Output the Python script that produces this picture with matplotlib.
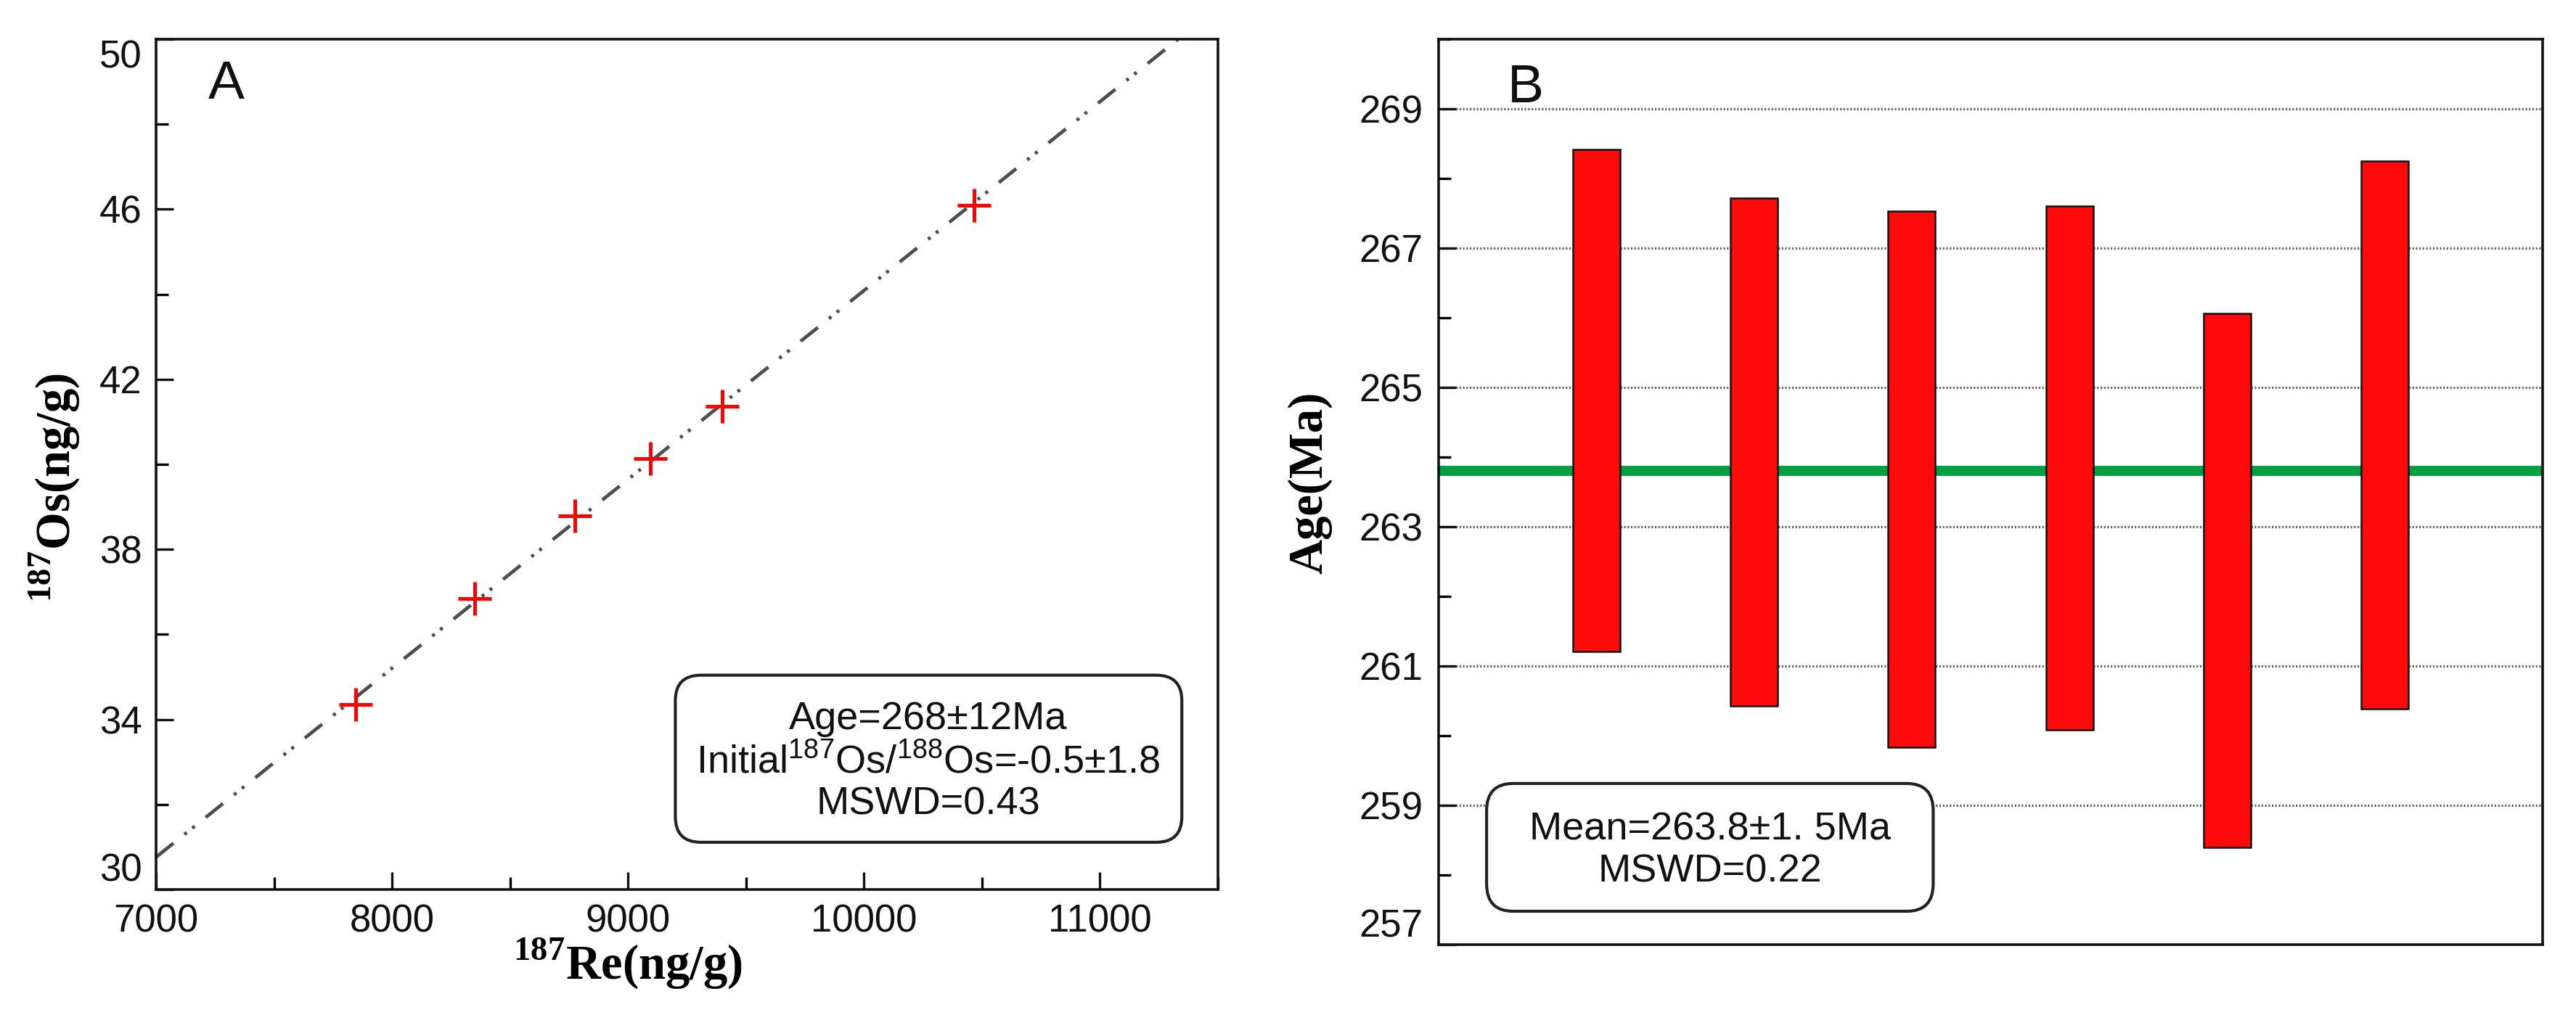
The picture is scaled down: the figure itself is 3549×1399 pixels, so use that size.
import numpy as np
import matplotlib
matplotlib.use("Agg")
import matplotlib.pyplot as plt
from matplotlib.patches import FancyBboxPatch
from matplotlib.ticker import MultipleLocator

#  DATA
re_187 = [7846, 8351, 8776, 9095, 9400, 10466]      # ng/g
os_187 = [34.35, 36.84, 38.79, 40.14, 41.37, 46.09]  # ng/g

sample_no = [1, 2, 3, 4, 5, 6]
age_low   = [261.21, 260.43, 259.83, 260.08, 258.40, 260.39]
age_high  = [268.42, 267.72, 267.53, 267.60, 266.06, 268.25]
mean_age  = 263.8

text_a = ["Age=268\u00b112Ma",
          "Initial$^{\\mathregular{187}}$Os/$^{\\mathregular{188}}$Os=-0.5\u00b11.8",
          "MSWD=0.43"]
text_b = ["Mean=263.8\u00b11. 5Ma", "MSWD=0.22"]

#  STYLE
SANS  = "Liberation Sans"
SERIF = "Liberation Serif"
plt.rcParams["font.family"] = SANS
plt.rcParams["lines.scale_dashes"] = False

TICK_FS  = 38
LABEL_FS = 48
BOX_FS   = 39

fig = plt.figure(figsize=(35.49, 13.99), dpi=100)
ax_a = fig.add_axes([0.0606, 0.1237, 0.4122, 0.8377])
ax_b = fig.add_axes([0.5585, 0.0693, 0.4285, 0.8921])


def style_axes(ax, pad):
    for sp in ax.spines.values():
        sp.set_linewidth(2.6)
        sp.set_color("#111111")
    ax.tick_params(which="major", direction="in", length=17, width=2.4,
                   labelsize=TICK_FS, pad=pad, colors="#111111")
    ax.tick_params(which="minor", direction="in", length=12, width=2.4)
    for lbl in ax.get_xticklabels() + ax.get_yticklabels():
        lbl.set_fontfamily(SANS)


def pull_end_labels(ax, lo=None, hi=None):
    # Origin-style: the end labels sit inside the axis range
    for tick, val in zip(ax.yaxis.get_major_ticks(), ax.get_yticks()):
        if lo is not None and np.isclose(val, lo):
            tick.label1.set_verticalalignment("bottom")
        if hi is not None and np.isclose(val, hi):
            tick.label1.set_verticalalignment("top")


def rounded_box(ax, x0, y0, x1, y1, r, aspect):
    box = FancyBboxPatch((x0, y0), x1 - x0, y1 - y0,
                         boxstyle=f"round,pad=0,rounding_size={r}",
                         mutation_aspect=aspect, transform=ax.transAxes,
                         facecolor="white", edgecolor="#222222",
                         linewidth=3.0, zorder=6)
    ax.add_patch(box)


#  PANEL A : isochron
ax_a.set_xlim(7000, 11500)
ax_a.set_ylim(30, 50)
ax_a.set_xticks(np.arange(7000, 11001, 1000))
ax_a.xaxis.set_minor_locator(MultipleLocator(500))
ax_a.set_yticks(np.arange(30, 51, 4))
ax_a.yaxis.set_minor_locator(MultipleLocator(2))

slope, icpt = np.polyfit(re_187, os_187, 1)
xx = np.array([7000, 11500])
ax_a.plot(xx, slope * xx + icpt, color="#4d4d4d", lw=3.4,
          dashes=(22, 14, 3, 7, 3, 14), zorder=2)
ax_a.plot(re_187, os_187, linestyle="none", marker="+", ms=33, mew=3.6,
          color="red", zorder=3)

style_axes(ax_a, 14)
pull_end_labels(ax_a, lo=30, hi=50)
ax_a.set_xlabel(r"$^{\mathregular{187}}$Re(ng/g)", fontsize=LABEL_FS,
                fontweight="bold", family=SERIF)
ax_a.set_ylabel(r"$^{\mathregular{187}}$Os(ng/g)", fontsize=LABEL_FS,
                fontweight="bold", family=SERIF)
ax_a.xaxis.set_label_coords(0.444, -0.055)
ax_a.yaxis.set_label_coords(-0.07, 0.473)

ax_a.text(0.049, 0.93, "A", transform=ax_a.transAxes, fontsize=54,
          family=SANS, color="#111111")

rounded_box(ax_a, 0.489, 0.0555, 0.966, 0.252, 0.024, 1.25)
ax_a.text(0.727, 0.150, "\n".join(text_a), transform=ax_a.transAxes,
          ha="center", va="center", fontsize=BOX_FS, linespacing=1.2,
          family=SANS, color="#111111", zorder=7)

#  PANEL B : weighted mean ages
ax_b.set_xlim(0, 7)
ax_b.set_ylim(257, 270)
ax_b.set_yticks(np.arange(257, 270, 2))
ax_b.yaxis.set_minor_locator(MultipleLocator(1))
ax_b.set_xticks([])

for yv in ax_b.get_yticks():
    if 257 < yv < 270:
        ax_b.axhline(yv, color="#666666", lw=2.4, ls=(0, (1.6, 1.8)), zorder=1)

ax_b.axhline(mean_age, color="#00a040", lw=10, zorder=2)

heights = np.array(age_high) - np.array(age_low)
ax_b.bar(sample_no, heights, bottom=age_low, width=0.3, color="#ff0a0a",
         edgecolor="#111111", linewidth=1.8, zorder=3)

style_axes(ax_b, 16)
pull_end_labels(ax_b, lo=257)
ax_b.set_ylabel("Age(Ma)", fontsize=LABEL_FS, fontweight="bold", family=SERIF)
ax_b.yaxis.set_label_coords(-0.0967, 0.51)

ax_b.text(0.0625, 0.930, "B", transform=ax_b.transAxes, fontsize=54,
          family=SANS, color="#111111")

rounded_box(ax_b, 0.0434, 0.0369, 0.448, 0.178, 0.024, 1.25)
ax_b.text(0.246, 0.104, "\n".join(text_b), transform=ax_b.transAxes,
          ha="center", va="center", fontsize=BOX_FS, linespacing=1.2,
          family=SANS, color="#111111", zorder=7)

fig.savefig("out.png", dpi=100, facecolor="white")
